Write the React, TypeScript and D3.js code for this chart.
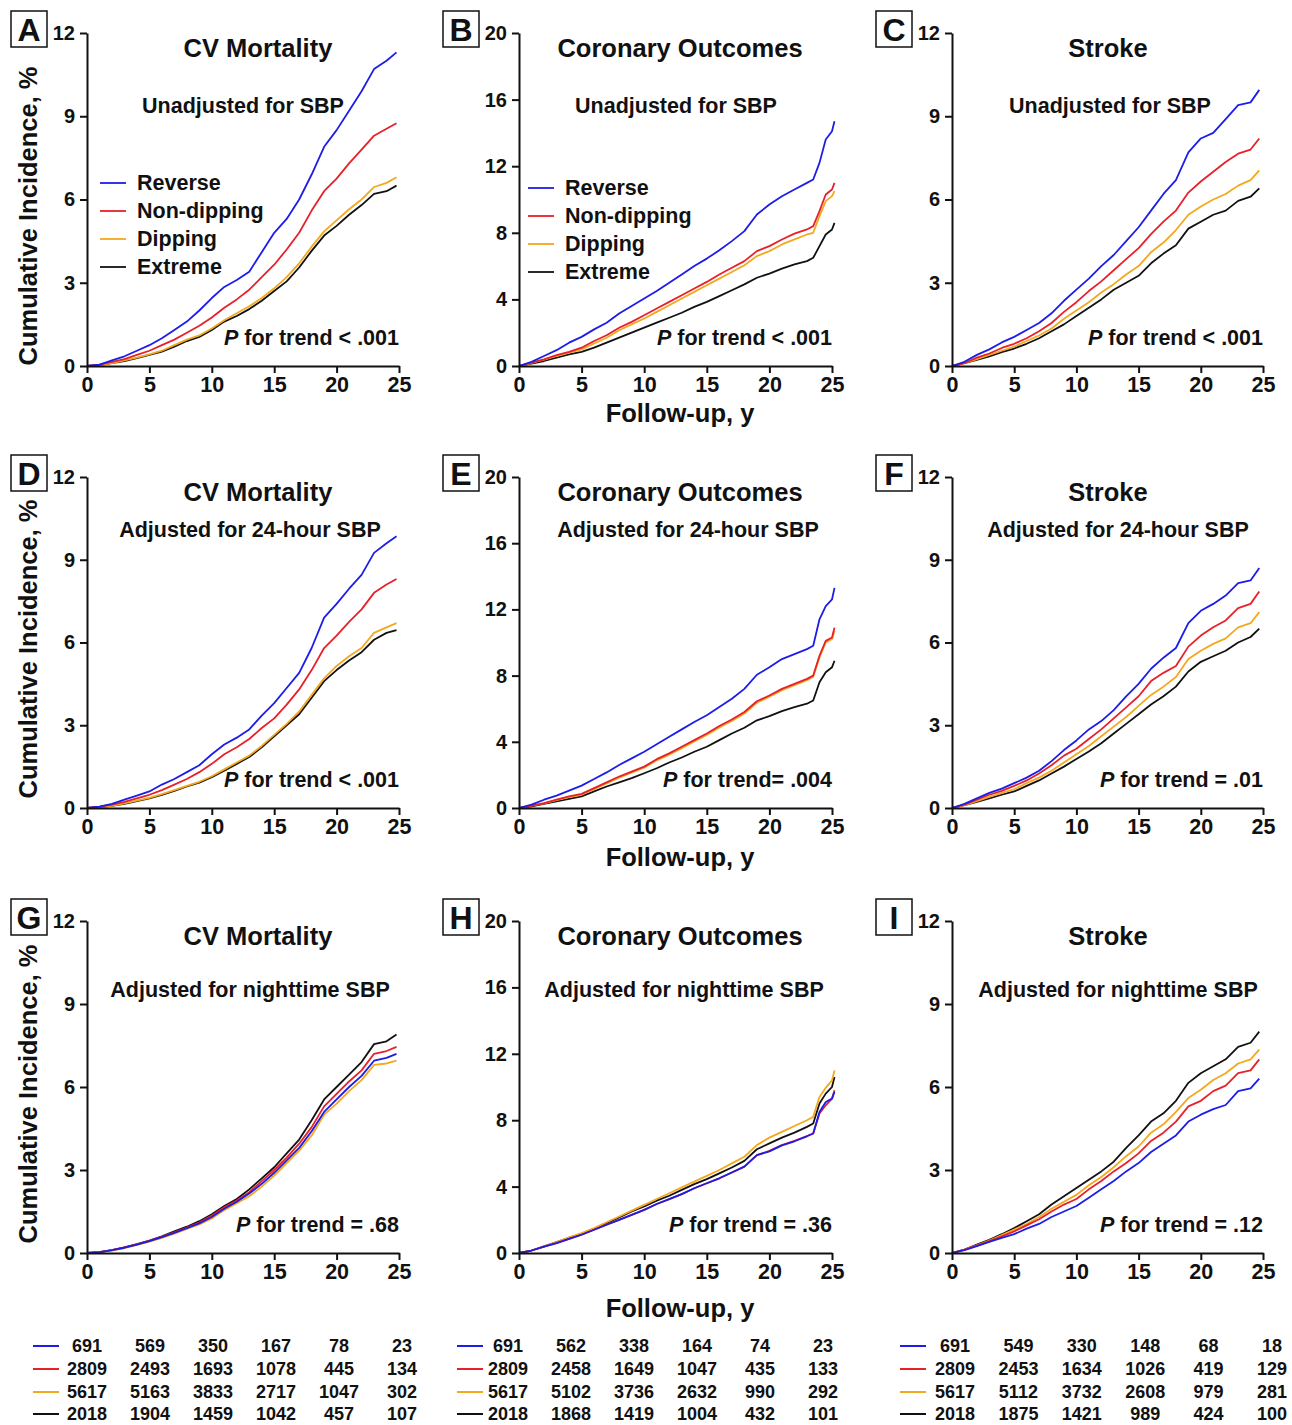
import React, { useEffect, useRef } from "react";
import * as d3 from "d3";

// groups (legend order) and colours
const GROUPS = ["Reverse", "Non-dipping", "Dipping", "Extreme"];
const COLORS = ["#1d1de8", "#e8202a", "#f4a81d", "#111111"];

// follow-up times (years) at which curves were read
const tCV = [0, 1, 2, 3, 4, 5, 6, 7, 8, 9, 10, 11, 12, 13, 14, 15, 16, 17, 18, 19, 20, 21, 22, 23, 24, 24.8];
const tCor = [0, 1, 2, 3, 4, 5, 6, 7, 8, 9, 10, 11, 12, 13, 14, 15, 16, 17, 18, 19, 20, 21, 22, 23, 23.5, 24, 24.5, 25, 25.2];
const tStroke = [0, 1, 2, 3, 4, 5, 6, 7, 8, 9, 10, 11, 12, 13, 14, 15, 16, 17, 18, 19, 20, 21, 22, 23, 24, 24.7];

// A: CV mortality, unadjusted
const cvA_rev = [0, 0.05, 0.2, 0.35, 0.55, 0.75, 1.0, 1.3, 1.6, 2.0, 2.45, 2.85, 3.1, 3.4, 4.1, 4.8, 5.3, 6.0, 6.9, 7.9, 8.5, 9.2, 9.9, 10.7, 11.0, 11.3];
const cvA_non = [0, 0.05, 0.15, 0.25, 0.4, 0.55, 0.75, 0.95, 1.2, 1.45, 1.75, 2.1, 2.4, 2.75, 3.2, 3.65, 4.2, 4.8, 5.6, 6.3, 6.75, 7.3, 7.8, 8.3, 8.55, 8.75];
const cvA_dip = [0, 0.03, 0.1, 0.2, 0.3, 0.42, 0.55, 0.75, 0.95, 1.1, 1.35, 1.65, 1.9, 2.15, 2.45, 2.8, 3.2, 3.7, 4.3, 4.85, 5.25, 5.65, 6.0, 6.45, 6.6, 6.8];
const cvA_ext = [0, 0.03, 0.1, 0.18, 0.28, 0.4, 0.52, 0.7, 0.9, 1.05, 1.3, 1.6, 1.8, 2.05, 2.35, 2.7, 3.05, 3.55, 4.15, 4.7, 5.05, 5.45, 5.8, 6.2, 6.3, 6.5];

// B: coronary outcomes, unadjusted
const corB_rev = [0, 0.25, 0.6, 0.95, 1.4, 1.75, 2.2, 2.6, 3.15, 3.6, 4.05, 4.5, 5.0, 5.5, 6.0, 6.45, 6.95, 7.5, 8.1, 9.1, 9.7, 10.2, 10.6, 11.0, 11.2, 12.2, 13.6, 14.1, 14.7];
const corB_non = [0, 0.2, 0.4, 0.65, 0.85, 1.1, 1.5, 1.85, 2.3, 2.65, 3.05, 3.45, 3.85, 4.25, 4.65, 5.05, 5.5, 5.9, 6.3, 6.9, 7.2, 7.6, 7.95, 8.2, 8.4, 9.3, 10.3, 10.6, 11.0];
const corB_dip = [0, 0.18, 0.38, 0.6, 0.8, 1.0, 1.35, 1.7, 2.15, 2.5, 2.85, 3.25, 3.65, 4.05, 4.45, 4.85, 5.25, 5.65, 6.05, 6.6, 6.9, 7.3, 7.6, 7.9, 8.0, 9.0, 9.9, 10.2, 10.5];
const corB_ext = [0, 0.15, 0.3, 0.5, 0.7, 0.85, 1.1, 1.4, 1.7, 2.0, 2.3, 2.6, 2.9, 3.2, 3.55, 3.85, 4.2, 4.55, 4.9, 5.3, 5.55, 5.85, 6.1, 6.3, 6.5, 7.2, 7.9, 8.2, 8.6];

// C: stroke, unadjusted
const stC_rev = [0, 0.15, 0.4, 0.6, 0.85, 1.05, 1.3, 1.55, 1.9, 2.35, 2.75, 3.15, 3.6, 4.0, 4.5, 5.0, 5.6, 6.2, 6.7, 7.7, 8.2, 8.4, 8.9, 9.4, 9.5, 9.95];
const stC_non = [0, 0.1, 0.3, 0.45, 0.65, 0.8, 1.0, 1.25, 1.55, 1.95, 2.3, 2.7, 3.05, 3.45, 3.85, 4.25, 4.75, 5.2, 5.6, 6.25, 6.65, 7.0, 7.35, 7.65, 7.8, 8.2];
const stC_dip = [0, 0.1, 0.25, 0.4, 0.55, 0.7, 0.9, 1.1, 1.35, 1.7, 2.0, 2.3, 2.65, 2.95, 3.3, 3.6, 4.1, 4.45, 4.9, 5.45, 5.75, 6.0, 6.2, 6.5, 6.7, 7.05];
const stC_ext = [0, 0.1, 0.22, 0.35, 0.5, 0.63, 0.8, 1.0, 1.25, 1.5, 1.8, 2.1, 2.4, 2.75, 3.0, 3.25, 3.7, 4.05, 4.35, 4.95, 5.2, 5.45, 5.6, 5.95, 6.1, 6.4];

// D: CV mortality, adjusted for 24-hour SBP
const cvD_rev = [0, 0.05, 0.15, 0.3, 0.45, 0.6, 0.85, 1.05, 1.3, 1.55, 1.95, 2.3, 2.55, 2.85, 3.35, 3.8, 4.35, 4.9, 5.8, 6.9, 7.4, 7.95, 8.45, 9.25, 9.6, 9.85];
const cvD_non = [0, 0.05, 0.12, 0.22, 0.35, 0.48, 0.65, 0.85, 1.05, 1.3, 1.6, 1.95, 2.2, 2.5, 2.9, 3.25, 3.75, 4.3, 5.0, 5.8, 6.25, 6.75, 7.2, 7.8, 8.1, 8.3];
const cvD_dip = [0, 0.03, 0.08, 0.17, 0.27, 0.37, 0.5, 0.65, 0.8, 0.95, 1.15, 1.4, 1.65, 1.9, 2.25, 2.65, 3.05, 3.5, 4.1, 4.7, 5.15, 5.5, 5.8, 6.35, 6.55, 6.7];
const cvD_ext = [0, 0.03, 0.08, 0.15, 0.25, 0.35, 0.48, 0.62, 0.78, 0.92, 1.12, 1.35, 1.6, 1.85, 2.2, 2.6, 3.0, 3.4, 4.0, 4.6, 5.0, 5.35, 5.65, 6.1, 6.35, 6.45];

// E: coronary outcomes, adjusted for 24-hour SBP
const corE_rev = [0, 0.2, 0.5, 0.75, 1.05, 1.35, 1.75, 2.15, 2.6, 3.0, 3.4, 3.85, 4.3, 4.75, 5.2, 5.6, 6.1, 6.6, 7.2, 8.05, 8.5, 9.0, 9.3, 9.6, 9.8, 11.4, 12.2, 12.6, 13.3];
const corE_non = [0, 0.15, 0.3, 0.5, 0.7, 0.85, 1.2, 1.55, 1.9, 2.2, 2.5, 2.95, 3.3, 3.7, 4.1, 4.5, 4.95, 5.35, 5.8, 6.45, 6.8, 7.2, 7.5, 7.8, 8.0, 9.2, 10.1, 10.3, 10.9];
const corE_dip = [0, 0.14, 0.28, 0.47, 0.66, 0.8, 1.14, 1.48, 1.83, 2.13, 2.43, 2.88, 3.22, 3.62, 4.02, 4.42, 4.86, 5.26, 5.71, 6.36, 6.72, 7.12, 7.42, 7.72, 7.93, 9.1, 10.0, 10.2, 10.7];
const corE_ext = [0, 0.1, 0.25, 0.4, 0.55, 0.7, 1.0, 1.3, 1.55, 1.8, 2.1, 2.4, 2.75, 3.05, 3.4, 3.7, 4.1, 4.5, 4.85, 5.3, 5.55, 5.85, 6.1, 6.3, 6.5, 7.6, 8.2, 8.5, 8.9];

// F: stroke, adjusted for 24-hour SBP
const stF_rev = [0, 0.15, 0.35, 0.55, 0.7, 0.9, 1.1, 1.35, 1.7, 2.1, 2.45, 2.85, 3.15, 3.55, 4.05, 4.5, 5.05, 5.45, 5.8, 6.7, 7.15, 7.4, 7.7, 8.15, 8.25, 8.7];
const stF_non = [0, 0.12, 0.3, 0.48, 0.62, 0.8, 1.0, 1.25, 1.55, 1.9, 2.15, 2.5, 2.85, 3.25, 3.65, 4.05, 4.6, 4.9, 5.15, 5.85, 6.25, 6.55, 6.8, 7.25, 7.4, 7.85];
const stF_dip = [0, 0.1, 0.25, 0.4, 0.55, 0.68, 0.9, 1.1, 1.35, 1.65, 1.95, 2.25, 2.6, 2.95, 3.3, 3.7, 4.1, 4.4, 4.75, 5.4, 5.7, 5.95, 6.15, 6.55, 6.7, 7.1];
const stF_ext = [0, 0.1, 0.22, 0.35, 0.48, 0.6, 0.8, 1.0, 1.25, 1.5, 1.78, 2.05, 2.35, 2.7, 3.05, 3.4, 3.75, 4.05, 4.4, 4.95, 5.3, 5.5, 5.7, 6.0, 6.2, 6.5];

// G: CV mortality, adjusted for nighttime SBP
const cvG_rev = [0, 0.03, 0.1, 0.19, 0.3, 0.43, 0.57, 0.73, 0.9, 1.07, 1.3, 1.6, 1.85, 2.15, 2.5, 2.9, 3.35, 3.8, 4.4, 5.1, 5.55, 6.0, 6.4, 6.95, 7.05, 7.2];
const cvG_non = [0, 0.03, 0.1, 0.2, 0.31, 0.44, 0.58, 0.75, 0.92, 1.1, 1.35, 1.65, 1.9, 2.2, 2.6, 3.0, 3.45, 3.95, 4.55, 5.3, 5.75, 6.2, 6.6, 7.2, 7.3, 7.45];
const cvG_dip = [0, 0.03, 0.09, 0.18, 0.29, 0.41, 0.55, 0.7, 0.87, 1.03, 1.25, 1.55, 1.8, 2.05, 2.4, 2.8, 3.25, 3.7, 4.25, 5.0, 5.4, 5.85, 6.25, 6.8, 6.85, 6.95];
const cvG_ext = [0, 0.03, 0.1, 0.2, 0.32, 0.45, 0.6, 0.78, 0.95, 1.15, 1.4, 1.7, 1.95, 2.3, 2.7, 3.1, 3.6, 4.1, 4.8, 5.55, 6.0, 6.45, 6.9, 7.55, 7.65, 7.9];

// H: coronary outcomes, adjusted for nighttime SBP
const corH_rev = [0, 0.15, 0.38, 0.6, 0.85, 1.1, 1.4, 1.7, 2.0, 2.3, 2.6, 2.95, 3.25, 3.55, 3.9, 4.2, 4.5, 4.85, 5.2, 5.9, 6.12, 6.48, 6.73, 7.03, 7.2, 8.5, 9.1, 9.3, 9.7];
const corH_non = [0, 0.15, 0.38, 0.6, 0.85, 1.1, 1.4, 1.7, 2.0, 2.3, 2.6, 2.95, 3.25, 3.55, 3.9, 4.2, 4.5, 4.85, 5.2, 5.9, 6.15, 6.5, 6.75, 7.05, 7.2, 8.4, 8.9, 9.3, 9.8];
const corH_dip = [0, 0.15, 0.4, 0.65, 0.95, 1.2, 1.5, 1.85, 2.2, 2.55, 2.9, 3.25, 3.6, 3.95, 4.3, 4.65, 5.0, 5.4, 5.8, 6.5, 6.95, 7.3, 7.65, 8.0, 8.2, 9.4, 9.95, 10.4, 11.0];
const corH_ext = [0, 0.15, 0.4, 0.65, 0.92, 1.15, 1.45, 1.8, 2.15, 2.5, 2.8, 3.15, 3.45, 3.8, 4.15, 4.45, 4.8, 5.15, 5.55, 6.25, 6.6, 6.95, 7.25, 7.6, 7.8, 9.0, 9.6, 10.0, 10.6];

// I: stroke, adjusted for nighttime SBP
const stI_rev = [0, 0.1, 0.25, 0.4, 0.55, 0.68, 0.88, 1.05, 1.3, 1.5, 1.7, 2.0, 2.3, 2.6, 2.95, 3.25, 3.65, 3.95, 4.25, 4.75, 5.0, 5.2, 5.35, 5.85, 5.95, 6.3];
const stI_non = [0, 0.12, 0.27, 0.43, 0.6, 0.78, 1.0, 1.22, 1.5, 1.75, 1.95, 2.3, 2.6, 2.95, 3.25, 3.6, 4.05, 4.35, 4.75, 5.3, 5.5, 5.85, 6.05, 6.5, 6.6, 7.0];
const stI_dip = [0, 0.12, 0.28, 0.45, 0.65, 0.85, 1.05, 1.3, 1.6, 1.85, 2.1, 2.45, 2.75, 3.1, 3.5, 3.85, 4.35, 4.65, 5.1, 5.6, 5.9, 6.25, 6.5, 6.85, 7.0, 7.35];
const stI_ext = [0, 0.12, 0.3, 0.48, 0.68, 0.9, 1.15, 1.4, 1.75, 2.05, 2.35, 2.65, 2.95, 3.3, 3.8, 4.25, 4.75, 5.05, 5.5, 6.15, 6.5, 6.75, 7.0, 7.45, 7.6, 8.0];

// numbers at risk at 0, 5, 10, 15, 20, 25 y (rows: reverse, non-dipping, dipping, extreme)
const riskCV = [[691, 569, 350, 167, 78, 23], [2809, 2493, 1693, 1078, 445, 134], [5617, 5163, 3833, 2717, 1047, 302], [2018, 1904, 1459, 1042, 457, 107]];
const riskCor = [[691, 562, 338, 164, 74, 23], [2809, 2458, 1649, 1047, 435, 133], [5617, 5102, 3736, 2632, 990, 292], [2018, 1868, 1419, 1004, 432, 101]];
const riskStroke = [[691, 549, 330, 148, 68, 18], [2809, 2453, 1634, 1026, 419, 129], [5617, 5112, 3732, 2608, 979, 281], [2018, 1875, 1421, 989, 424, 100]];

const xTicks = [0, 5, 10, 15, 20, 25];
const yTicks12 = [0, 3, 6, 9, 12];
const yTicks20 = [0, 4, 8, 12, 16, 20];

const TITLES = ["CV Mortality", "Coronary Outcomes", "Stroke"];
const SUBTITLES = ["Unadjusted for SBP", "Adjusted for 24-hour SBP", "Adjusted for nighttime SBP"];
const PTEXT = [
  [" for trend < .001", " for trend < .001", " for trend < .001"],
  [" for trend < .001", " for trend= .004", " for trend = .01"],
  [" for trend = .68", " for trend = .36", " for trend = .12"],
];
const LETTERS = [["A", "B", "C"], ["D", "E", "F"], ["G", "H", "I"]];

const SERIES = [
  [[cvA_rev, cvA_non, cvA_dip, cvA_ext], [corB_rev, corB_non, corB_dip, corB_ext], [stC_rev, stC_non, stC_dip, stC_ext]],
  [[cvD_rev, cvD_non, cvD_dip, cvD_ext], [corE_rev, corE_non, corE_dip, corE_ext], [stF_rev, stF_non, stF_dip, stF_ext]],
  [[cvG_rev, cvG_non, cvG_dip, cvG_ext], [corH_rev, corH_non, corH_dip, corH_ext], [stI_rev, stI_non, stI_dip, stI_ext]],
];
const TIMES = [tCV, tCor, tStroke];
const RISK = [riskCV, riskCor, riskStroke];

// layout
const W = 1292;
const H = 1425;
const FONT = "'Liberation Sans', Arial, Helvetica, sans-serif";
const colLeft = [87, 519, 952];
const colRight = [399, 832, 1263];
const rowTop = [33, 477, 921];
const rowBottom = [366, 808, 1253];
const titleX = [258, 680, 1108];
const subX = [[243, 676, 1110], [250, 688, 1118], [250, 684, 1118]];
const subDy = [73, 53, 69];
const yLabelY = [216, 649, 1094];
const followY = [413, 857, 1308];

const App = () => {
  const svgRef = useRef<SVGSVGElement>(null);

  useEffect(() => {
    const svg = d3.select(svgRef.current);
    svg.selectAll("*").remove();
    svg.append("rect").attr("width", W).attr("height", H).attr("fill", "white");

    const label = (sel: any, size: number) =>
      sel
        .style("font-family", FONT)
        .style("font-weight", "bold")
        .style("font-size", `${size}px`)
        .attr("fill", "#111");

    for (let r = 0; r < 3; r++) {
      for (let c = 0; c < 3; c++) {
        const yMax = c === 1 ? 20 : 12;
        const x = d3.scaleLinear().domain([0, 25]).range([colLeft[c], colRight[c]]);
        const y = d3.scaleLinear().domain([0, yMax]).range([rowBottom[r], rowTop[r]]);
        const g = svg.append("g");

        // curves: extreme first so reverse ends up on top
        const line = d3
          .line<[number, number]>()
          .x(d => x(d[0]))
          .y(d => y(d[1]));
        const times = TIMES[c];
        [3, 2, 1, 0].forEach(k => {
          const vals = SERIES[r][c][k];
          const pts = times.map((t, i) => [t, vals[i]] as [number, number]);
          g.append("path")
            .attr("d", line(pts))
            .attr("fill", "none")
            .attr("stroke", COLORS[k])
            .attr("stroke-width", 1.8)
            .attr("stroke-linejoin", "round");
        });

        // axes
        const yAxis = g
          .append("g")
          .attr("transform", `translate(${colLeft[c]},0)`)
          .call(
            d3.axisLeft(y).tickValues(yMax === 20 ? yTicks20 : yTicks12).tickSize(7).tickSizeOuter(0).tickPadding(5)
          );
        const xAxis = g
          .append("g")
          .attr("transform", `translate(0,${rowBottom[r]})`)
          .call(d3.axisBottom(x).tickValues(xTicks).tickSize(7).tickSizeOuter(0).tickPadding(4));
        [yAxis, xAxis].forEach(a => {
          a.selectAll("path, line").attr("stroke", "#111").attr("stroke-width", 2);
        });
        label(yAxis.selectAll("text"), 20);
        label(xAxis.selectAll("text"), 21.5);

        // panel letter box
        g.append("rect")
          .attr("x", colLeft[c] - 76)
          .attr("y", rowTop[r] - 22)
          .attr("width", 36)
          .attr("height", 36)
          .attr("fill", "white")
          .attr("stroke", "#111")
          .attr("stroke-width", 1.5);
        label(g.append("text"), 32)
          .attr("x", colLeft[c] - 58)
          .attr("y", rowTop[r] - 3)
          .attr("text-anchor", "middle")
          .attr("dominant-baseline", "central")
          .text(LETTERS[r][c]);

        // titles
        label(g.append("text"), 25.5)
          .attr("x", titleX[c])
          .attr("y", rowTop[r] + 15)
          .attr("text-anchor", "middle")
          .attr("dominant-baseline", "central")
          .text(TITLES[c]);
        label(g.append("text"), 21.5)
          .attr("x", subX[r][c])
          .attr("y", rowTop[r] + subDy[r])
          .attr("text-anchor", "middle")
          .attr("dominant-baseline", "central")
          .text(SUBTITLES[r]);

        // p for trend
        const pt = label(g.append("text"), 21.5)
          .attr("x", colRight[c])
          .attr("y", rowBottom[r] - 28)
          .attr("text-anchor", "end")
          .attr("dominant-baseline", "central");
        pt.append("tspan").style("font-style", "italic").text("P");
        pt.append("tspan").text(PTEXT[r][c]);

        // legend in A and B
        if (r === 0 && c < 2) {
          const lx = c === 0 ? 100 : 528;
          const ly0 = c === 0 ? 183 : 188;
          GROUPS.forEach((name, k) => {
            const ly = ly0 + k * 28;
            g.append("line")
              .attr("x1", lx)
              .attr("x2", lx + 26)
              .attr("y1", ly)
              .attr("y2", ly)
              .attr("stroke", COLORS[k])
              .attr("stroke-width", 1.8);
            label(g.append("text"), 21.5)
              .attr("x", lx + 37)
              .attr("y", ly)
              .attr("dominant-baseline", "central")
              .text(name);
          });
        }
      }

      // y label
      label(svg.append("text"), 25.5)
        .attr("transform", `translate(28,${yLabelY[r]}) rotate(-90)`)
        .attr("text-anchor", "middle")
        .attr("dominant-baseline", "central")
        .text("Cumulative Incidence, %");

      // x label
      label(svg.append("text"), 25.5)
        .attr("x", 680)
        .attr("y", followY[r])
        .attr("text-anchor", "middle")
        .attr("dominant-baseline", "central")
        .text("Follow-up, y");
    }

    // numbers at risk
    const tableRange = [[87, 402], [508, 823], [955, 1272]];
    const sampleX = [33, 457, 900];
    const rowsY = [1346, 1369, 1392, 1414];
    for (let c = 0; c < 3; c++) {
      const tx = d3.scaleLinear().domain([0, 25]).range(tableRange[c]);
      RISK[c].forEach((row, k) => {
        svg
          .append("line")
          .attr("x1", sampleX[c])
          .attr("x2", sampleX[c] + 26)
          .attr("y1", rowsY[k])
          .attr("y2", rowsY[k])
          .attr("stroke", COLORS[k])
          .attr("stroke-width", 2);
        row.forEach((n, i) => {
          label(svg.append("text"), 18)
            .attr("x", tx(xTicks[i]))
            .attr("y", rowsY[k])
            .attr("text-anchor", "middle")
            .attr("dominant-baseline", "central")
            .text(n);
        });
      });
    }
  }, []);

  return (
    <svg
      ref={svgRef}
      width={W}
      height={H}
      style={{ position: "absolute", left: 0, top: 0 }}
    ></svg>
  );
};

export default App;
